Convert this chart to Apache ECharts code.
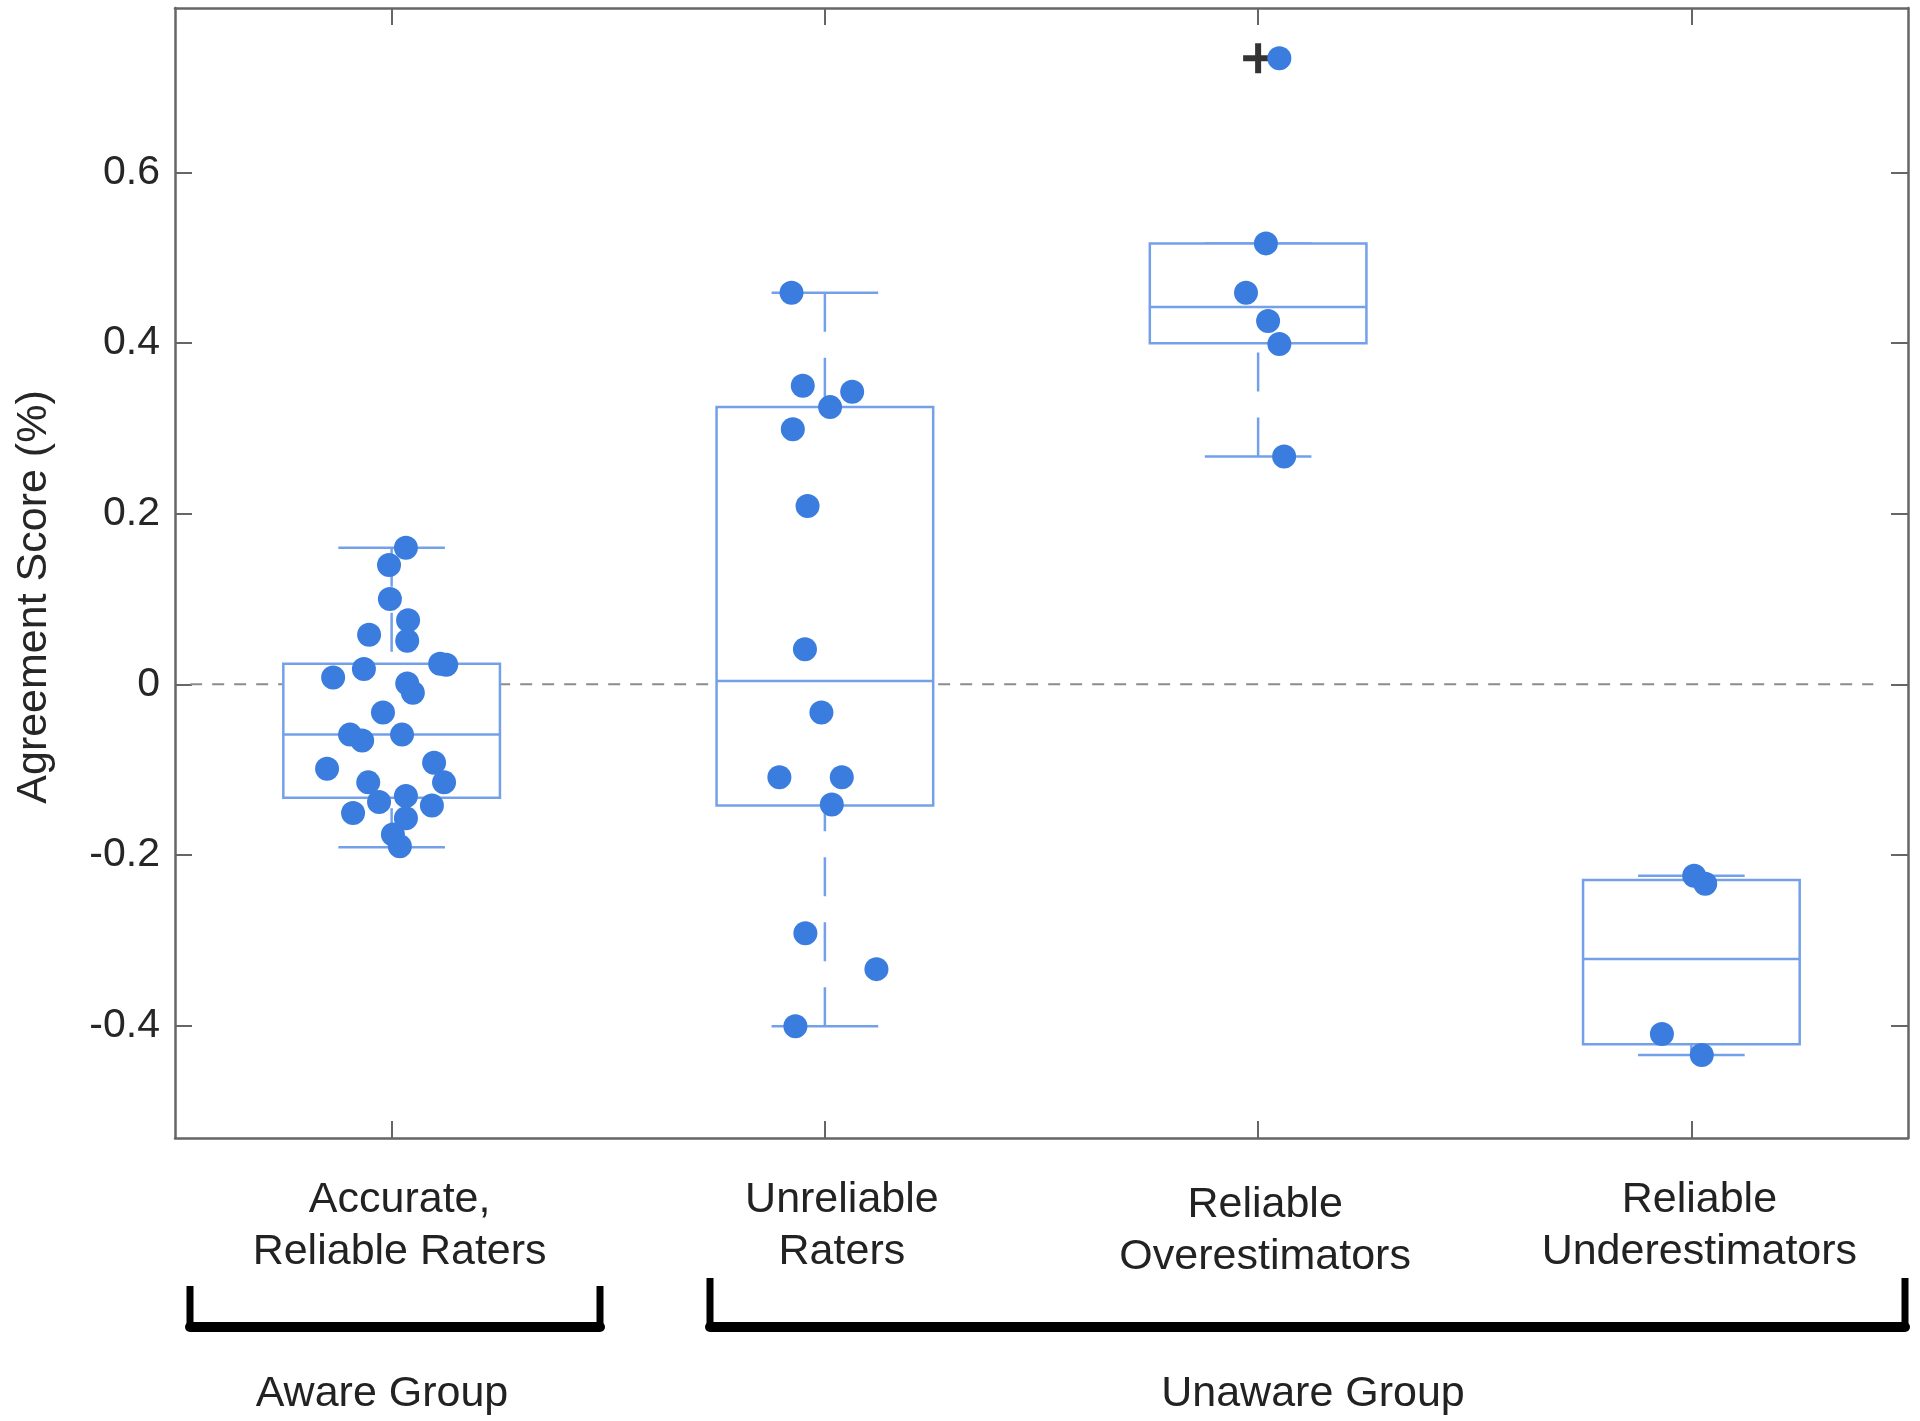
<!DOCTYPE html>
<html>
<head>
<meta charset="utf-8">
<script src="https://cdn.jsdelivr.net/npm/echarts@6/dist/echarts.min.js"></script>
<style>
  html, body { margin: 0; padding: 0; background: #ffffff; }
  #chart { width: 1920px; height: 1421px; }
</style>
</head>
<body>
<div id="chart"></div>
<script>
// ---------------- data ----------------
const categories = ['Accurate,\nReliable Raters', 'Unreliable\nRaters', 'Reliable\nOverestimators', 'Reliable\nUnderestimators'];
const groupLabels = ['Aware Group', 'Unaware Group'];

const yTickValues = [-0.4, -0.2, 0, 0.2, 0.4, 0.6];
const yTickLabels = ['-0.4', '-0.2', '0', '0.2', '0.4', '0.6'];

// box statistics per category
const boxLow    = [-0.191, -0.401, 0.267, -0.4346];
const boxQ1     = [-0.133, -0.142, 0.400, -0.422];
const boxMedian = [-0.059,  0.004, 0.4425, -0.322];
const boxQ3     = [ 0.024,  0.325, 0.517, -0.2295];
const boxHigh   = [ 0.160,  0.459, 0.517, -0.2245];

// outlier markers (+)
const outlierGroup = [2];
const outlierValue = [0.734];

// individual scores and their horizontal jitter (in category units)
const scoresAccurate = [0.160, 0.140, 0.100, 0.075, 0.058, 0.051, 0.018, 0.024, 0.023, 0.008, 0.001, -0.010, -0.033, -0.059, -0.066, -0.059, -0.099, -0.092, -0.115, -0.115, -0.138, -0.131, -0.142, -0.151, -0.157, -0.176, -0.190];
const jitterAccurate = [0.033, -0.006, -0.004, 0.038, -0.052, 0.036, -0.064, 0.112, 0.126, -0.135, 0.036, 0.049, -0.020, -0.096, -0.068, 0.024, -0.149, 0.098, 0.121, -0.054, -0.029, 0.033, 0.093, -0.089, 0.033, 0.003, 0.019];

const scoresUnreliable = [0.459, 0.350, 0.343, 0.325, 0.299, 0.209, 0.041, -0.033, -0.109, -0.109, -0.141, -0.292, -0.334, -0.401];
const jitterUnreliable = [-0.077, -0.051, 0.063, 0.012, -0.074, -0.040, -0.046, -0.008, -0.105, 0.039, 0.016, -0.045, 0.119, -0.068];

const scoresOver = [0.734, 0.517, 0.459, 0.426, 0.399, 0.267];
const jitterOver = [0.049, 0.018, -0.028, 0.023, 0.049, 0.060];

const scoresUnder = [-0.2245, -0.2340, -0.410, -0.4346];
const jitterUnder = [0.0065, 0.032, -0.068, 0.024];

const zeroLineX = [-0.465, 3.42];

// ---------------- styles ----------------
const FONT = "'Liberation Sans', Arial, Helvetica, sans-serif";
const AXIS_COLOR = '#666666';
const TEXT_COLOR = '#222222';
const DOT_COLOR = '#3a7ddf';
const BOX_COLOR = '#74a0ea';
const labelOffsets = [[8, 0], [17, 0], [7, 5], [8, 0]]; // [dx, dy] px

// ---------------- build ----------------
const allScores = [scoresAccurate, scoresUnreliable, scoresOver, scoresUnder];
const allJitter = [jitterAccurate, jitterUnreliable, jitterOver, jitterUnder];
const dotData = [];
allScores.forEach((arr, g) => {
  arr.forEach((v, i) => dotData.push([g + allJitter[g][i], v]));
});
const boxData = categories.map((c, i) => [i, boxLow[i], boxQ1[i], boxMedian[i], boxQ3[i], boxHigh[i]]);
const outlierData = outlierGroup.map((g, i) => [g, outlierValue[i]]);

const catData = categories.map((c, i) => ({
  value: c,
  textStyle: { padding: [labelOffsets[i][1], 0, 0, labelOffsets[i][0] * 2] }
}));

function renderBox(params, api) {
  const x = api.value(0);
  const bw = api.size([1, 0])[0];
  const pLow = api.coord([x, api.value(1)]);
  const pQ1 = api.coord([x, api.value(2)]);
  const pMed = api.coord([x, api.value(3)]);
  const pQ3 = api.coord([x, api.value(4)]);
  const pHigh = api.coord([x, api.value(5)]);
  const cx = pMed[0];
  const halfBox = bw * 0.25;
  const halfCap = bw * 0.123;
  const solid = { stroke: BOX_COLOR, lineWidth: 2.5, fill: null };
  const dashed = { stroke: BOX_COLOR, lineWidth: 2.5, fill: null, lineDash: [39, 26] };
  const children = [];
  if (pHigh[1] < pQ3[1] - 1) {
    children.push({ type: 'line', shape: { x1: cx, y1: pHigh[1], x2: cx, y2: pQ3[1] }, style: dashed });
  }
  if (pLow[1] > pQ1[1] + 1) {
    children.push({ type: 'line', shape: { x1: cx, y1: pLow[1], x2: cx, y2: pQ1[1] }, style: dashed });
  }
  children.push({ type: 'line', shape: { x1: cx - halfCap, y1: pHigh[1], x2: cx + halfCap, y2: pHigh[1] }, style: solid });
  children.push({ type: 'line', shape: { x1: cx - halfCap, y1: pLow[1], x2: cx + halfCap, y2: pLow[1] }, style: solid });
  children.push({ type: 'rect', shape: { x: cx - halfBox, y: pQ3[1], width: halfBox * 2, height: pQ1[1] - pQ3[1] },
    style: { stroke: BOX_COLOR, lineWidth: 2.5, fill: '#ffffff' } });
  children.push({ type: 'line', shape: { x1: cx - halfBox, y1: pMed[1], x2: cx + halfBox, y2: pMed[1] }, style: solid });
  return { type: 'group', children: children };
}

const tickLabelFormatter = function (v) {
  const idx = yTickValues.findIndex(t => Math.abs(t - v) < 1e-9);
  return idx >= 0 ? yTickLabels[idx] : '';
};

const yAxisBase = {
  type: 'value',
  min: -0.532,
  max: 0.793,
  splitLine: { show: false },
  axisLine: { show: true, onZero: false, lineStyle: { color: AXIS_COLOR, width: 2.5 } },
  axisTick: { show: true, inside: true, length: 17, customValues: yTickValues, lineStyle: { color: AXIS_COLOR, width: 2 } }
};

const chart = echarts.init(document.getElementById('chart'), null, { renderer: 'canvas' });
chart.setOption({
  animation: false,
  backgroundColor: '#ffffff',
  grid: { left: 175, right: 12, top: 8, bottom: 283, containLabel: false },
  xAxis: [
    {
      type: 'category', position: 'bottom', data: catData, boundaryGap: true,
      axisLine: { show: true, onZero: false, lineStyle: { color: AXIS_COLOR, width: 2.5 } },
      axisTick: { show: true, inside: true, alignWithLabel: true, length: 17, lineStyle: { color: AXIS_COLOR, width: 2 } },
      axisLabel: { show: true, interval: 0, fontFamily: FONT, fontSize: 43, color: TEXT_COLOR, lineHeight: 52, margin: 36 },
      splitLine: { show: false }
    },
    {
      type: 'category', position: 'top', data: categories, boundaryGap: true,
      axisLine: { show: true, onZero: false, lineStyle: { color: AXIS_COLOR, width: 2.5 } },
      axisTick: { show: true, inside: true, alignWithLabel: true, length: 17, lineStyle: { color: AXIS_COLOR, width: 2 } },
      axisLabel: { show: false },
      splitLine: { show: false }
    },
    { type: 'value', min: -0.5, max: 3.5, show: false }
  ],
  yAxis: [
    Object.assign({}, yAxisBase, {
      position: 'left',
      axisLabel: { show: true, customValues: yTickValues, formatter: tickLabelFormatter, fontFamily: FONT, fontSize: 41, color: '#262626', margin: 15 }
    }),
    Object.assign({}, yAxisBase, { position: 'right', axisLabel: { show: false } })
  ],
  graphic: [
    { type: 'text', x: 34, y: 597, rotation: Math.PI / 2,
      style: { text: 'Agreement Score (%)', font: '43px ' + FONT, fill: '#262626', align: 'center', verticalAlign: 'middle' } },
    { type: 'polyline', shape: { points: [[190, 1286], [190, 1327], [600, 1327], [600, 1286]] },
      style: { stroke: '#000', lineWidth: 7, fill: null, lineJoin: 'round' } },
    { type: 'line', shape: { x1: 190, y1: 1327, x2: 600, y2: 1327 }, style: { stroke: '#000', lineWidth: 10, lineCap: 'round' } },
    { type: 'polyline', shape: { points: [[710, 1278], [710, 1327], [1905, 1327], [1905, 1278]] },
      style: { stroke: '#000', lineWidth: 7, fill: null, lineJoin: 'round' } },
    { type: 'line', shape: { x1: 710, y1: 1327, x2: 1905, y2: 1327 }, style: { stroke: '#000', lineWidth: 10, lineCap: 'round' } },
    { type: 'text', x: 382, y: 1394,
      style: { text: groupLabels[0], font: '43px ' + FONT, fill: TEXT_COLOR, align: 'center', verticalAlign: 'middle' } },
    { type: 'text', x: 1313, y: 1394,
      style: { text: groupLabels[1], font: '43px ' + FONT, fill: TEXT_COLOR, align: 'center', verticalAlign: 'middle' } }
  ],
  series: [
    {
      type: 'line', xAxisIndex: 2, yAxisIndex: 0, z: 1,
      data: [[zeroLineX[0], 0], [zeroLineX[1], 0]],
      symbol: 'none', silent: true,
      lineStyle: { color: '#8c8c8c', width: 2, type: [12, 10] }
    },
    {
      type: 'custom', xAxisIndex: 0, yAxisIndex: 0, z: 2,
      renderItem: renderBox,
      data: boxData,
      encode: { x: 0, y: [1, 2, 3, 4, 5] }
    },
    {
      type: 'scatter', xAxisIndex: 2, yAxisIndex: 0, z: 3,
      data: outlierData,
      symbol: 'path://M0,12 L30,12 L30,18 L0,18 Z M12,0 L18,0 L18,30 L12,30 Z',
      symbolSize: 30,
      itemStyle: { color: '#000000' }
    },
    {
      type: 'scatter', xAxisIndex: 2, yAxisIndex: 0, z: 4,
      data: dotData,
      symbol: 'circle', symbolSize: 24,
      itemStyle: { color: DOT_COLOR, opacity: 1 }
    }
  ]
});
</script>
</body>
</html>
